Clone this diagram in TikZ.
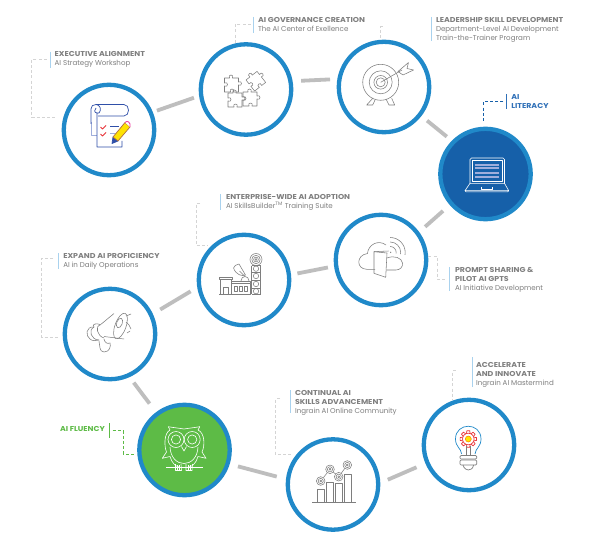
\documentclass[tikz,border=0pt]{standalone}
\usepackage{fontspec}
\usetikzlibrary{calc}
\setmainfont{Poppins}
\newfontfamily\hdfam[FakeStretch=1.11]{Poppins}
\definecolor{ring}{HTML}{2089C9}
\definecolor{conn}{HTML}{BEBEBE}
\definecolor{barb}{HTML}{A9D2EE}
\definecolor{leadg}{HTML}{D4D4D4}
\definecolor{txt}{HTML}{7F7F7F}
\definecolor{icong}{HTML}{7E7E7E}
\definecolor{litb}{HTML}{1660A9}
\definecolor{litt}{HTML}{2F70B8}
\definecolor{flug}{HTML}{5DBB46}
\definecolor{docb}{HTML}{2F4FA8}
\definecolor{docl}{HTML}{9FAEDC}
\definecolor{redi}{HTML}{E8343A}
\tikzset{
  stage/.style={circle,draw=ring,line width=4.3pt,minimum size=90.4pt,inner sep=0pt,fill=white},
  connector/.style={draw=conn,line width=3.8pt},
  bar/.style={draw=barb,line width=.9pt},
  lead/.style={draw=leadg,line width=.7pt,dash pattern=on 3pt off 2.2pt},
  lab/.style={anchor=north west,inner sep=0pt,outer sep=0pt,align=left,text=txt,font=\fontsize{7.1}{8.8}\selectfont},
  icon/.style={draw=icong,line width=.55pt,line join=round},
  owl/.style={draw=white,line width=.6pt,line join=round},
  lap/.style={draw=white,line width=.6pt,line join=round}
}
\newcommand{\hd}[1]{{\hdfam\bfseries #1}}
\newcommand{\piece}{(0,0) -- (5,0) .. controls (3,-4) and (10,-4) .. (8,0) -- (14,0) -- (14,4) .. controls (18,2) and (18,9) .. (14,7) -- (14,14) -- (9,14) .. controls (11,10) and (4,10) .. (6,14) -- (0,14) -- (0,8) .. controls (4,10) and (4,3) .. (0,5) -- cycle}
\begin{document}
\begin{tikzpicture}[x=1pt,y=-1pt]
\useasboundingbox (0,0) rectangle (612,540);
\fill[white] (0,0) rectangle (612,540);
% stages
\node[stage] (c1) at (109,130) {};
\node[stage] (c2) at (246,89.5) {};
\node[stage] (c3) at (384,87) {};
\node[stage,fill=litb] (c4) at (485.5,174) {};
\node[stage] (c5) at (381,260) {};
\node[stage] (c6) at (244,280) {};
\node[stage] (c7) at (110,334) {};
\node[stage,fill=flug] (c8) at (184.5,450) {};
\node[stage] (c9) at (333,484.5) {};
\node[stage] (c10) at (469,445) {};
% connectors
\draw[connector] ($(c1)!51.7pt!(c1.22.7)$) -- ($(c2)!52.7pt!(c2.189.6)$);
\draw[connector] ($(c2)!55.8pt!(c2.9.8)$) -- ($(c3)!54.5pt!(c3.172.6)$);
\draw[connector] ($(c3)!54.6pt!(c3.-38.1)$) -- ($(c4)!53.8pt!(c4.136.1)$);
\draw[connector] ($(c4)!56.3pt!(c4.221)$) -- ($(c5)!55.2pt!(c5.37.1)$);
\draw[connector] ($(c5)!53.6pt!(c5.188.6)$) -- ($(c6)!53.8pt!(c6.7.8)$);
\draw[connector] ($(c6)!54.6pt!(c6.192.4)$) -- ($(c7)!55.9pt!(c7.26.6)$);
\draw[connector] ($(c7)!54.1pt!(c7.-64.9)$) -- ($(c8)!58.1pt!(c8.127.7)$);
\draw[connector] ($(c8)!55.9pt!(c8.-17.7)$) -- ($(c9)!56.8pt!(c9.172.1)$);
\draw[connector] ($(c9)!55pt!(c9.5.7)$) -- ($(c10)!57pt!(c10.203.5)$);
% labels
\node[lab] (t1) at (54.7,51.4) {\hd{EXECUTIVE ALIGNMENT}\\AI Strategy Workshop};
\node[lab] (t2) at (258,17.5) {\hd{AI GOVERNANCE CREATION}\\The AI Center of Exellence};
\node[lab] (t3) at (436,17.5) {\hd{LEADERSHIP SKILL DEVELOPMENT}\\Department-Level AI Development\\Train-the-Trainer Program};
\node[lab,text=litt] (t4) at (511.3,94.5) {\hd{AI}\\\hd{LITERACY}};
\node[lab] (t5) at (226,194.5) {\hd{ENTERPRISE-WIDE AI ADOPTION}\\AI SkillsBuilder\textsuperscript{TM} Training Suite};
\node[lab] (t6) at (455,267.5) {\hd{PROMPT SHARING \&}\\\hd{PILOT AI GPTS}\\AI Initiative Development};
\node[lab] (t7) at (63.3,253.5) {\hd{EXPAND AI PROFICIENCY}\\AI in Daily Operations};
\node[lab,text=flug] (t8) at (60,426.5) {\hd{AI FLUENCY}};
\node[lab] (t9) at (295,390.5) {\hd{CONTINUAL AI}\\\hd{SKILLS ADVANCEMENT}\\Ingrain AI Online Community};
\node[lab] (t10) at (476,362.5) {\hd{ACCELERATE}\\\hd{AND INNOVATE}\\Ingrain AI Mastermind};
% bars
\coordinate (b1a) at (50.3,51.7); \coordinate (b1b) at (50.3,68);
\coordinate (b2a) at (253.3,17); \coordinate (b2b) at (253.3,33);
\coordinate (b3a) at (431.7,17); \coordinate (b3b) at (431.7,41);
\coordinate (b4a) at (506,94); \coordinate (b4b) at (506,108.7);
\coordinate (b5a) at (220.7,194.3); \coordinate (b5b) at (220.7,210);
\coordinate (b6a) at (449.3,267.3); \coordinate (b6b) at (449.3,290.7);
\coordinate (b7a) at (58.7,253.3); \coordinate (b7b) at (58.7,269);
\coordinate (b8a) at (109.3,423.3); \coordinate (b8b) at (109.3,438.3);
\coordinate (b9a) at (290.3,390); \coordinate (b9b) at (290.3,412.7);
\coordinate (b10a) at (472.3,357.3); \coordinate (b10b) at (472.3,386.7);
\foreach \i in {1,2,3,5,6,7,9,10} {\draw[bar] (b\i a) -- (b\i b);}
\draw[bar,draw=litt] (b4a) -- (b4b);
\draw[bar,draw=flug] (b8a) -- (b8b);
% leaders
\coordinate (l1a) at (46.7,59.3); \coordinate (l1b) at (56.7,117.3);
\coordinate (l2a) at (250.7,24.3); \coordinate (l2b) at (235,42.7);
\coordinate (l3a) at (382.7,26.7); \coordinate (l3b) at (380.7,39.3);
\coordinate (l4a) at (503.3,101.3); \coordinate (l4b) at (483.7,120.7);
\coordinate (l5a) at (200,203.3); \coordinate (l5b) at (208,245.3);
\coordinate (l6a) at (428.3,256.7); \coordinate (l6b) at (446.7,279);
\coordinate (l7a) at (53.3,258.3); \coordinate (l7b) at (59.3,337.3);
\coordinate (l8a) at (112.7,430.7); \coordinate (l8b) at (134,454);
\coordinate (l9a) at (280,398.7); \coordinate (l9b) at (291.7,454.7);
\coordinate (l10a) at (455.7,370.7); \coordinate (l10b) at (452.7,400);
\draw[lead] (l1a) -- (31.7,59.3) -- (31.7,117.3) -- (l1b);
\draw[lead] (l2a) -- (235,24.3) -- (l2b);
\draw[lead] (l3a) -- (380.7,26.7) -- (l3b);
\draw[lead,draw=litb] (l4a) -- (483.7,101.3) -- (l4b);
\draw[lead] (l5a) -- (196,203.3) -- (196,245.3) -- (l5b);
\draw[lead] (l6a) -- (437.3,256.7) -- (437.3,279) -- (l6b);
\draw[lead] (l7a) -- (41.7,258.3) -- (41.7,337.3) -- (l7b);
\draw[lead,draw=flug] (l8a) -- (123.3,430.7) -- (123.3,454) -- (l8b);
\draw[lead] (l9a) -- (275.7,398.7) -- (275.7,454.7) -- (l9b);
\draw[lead] (l10a) -- (452.7,370.7) -- (l10b);
% icon 1: document
\begin{scope}[line width=.7pt,line join=round]
\draw[docl] (91,122) -- (91,135) -- (97,135);
\draw[docb] (91,124) -- (91,109) .. controls (91,106) and (93,104.5) .. (96,104.5) -- (124,104.5) .. controls (130,104.5) and (130,116) .. (124,116) -- (98,116);
\draw[docb] (96,104.5) .. controls (100,104.5) and (102,110) .. (99,113) -- (97,113) -- (97,147) -- (122,147) -- (122,141);
\draw[docb] (97,113) .. controls (94,113) and (94,109) .. (96,108);
\draw[docb] (110,126) -- (119,126);
\draw[docl,line width=1pt] (110,134) -- (115,134);
\draw[redi,line width=.9pt] (100.5,127) -- (102.5,129) -- (106,125.5);
\draw[redi,line width=.9pt] (100.5,134) -- (102.5,136) -- (106,132.5);
\draw[docb,fill=docb] (113,137) -- (112,143.5) -- (118,141) -- cycle;
\draw[draw=docb!40!orange,fill=yellow!85!orange,line width=.7pt] (113,137) -- (125,122.5) -- (130,127) -- (118,141) -- cycle;
\draw[draw=magenta!80,fill=white,line width=.8pt] (125,122.5) .. controls (127,120) and (131,122) .. (130,127);
\end{scope}
% icon 2: puzzle
\begin{scope}[shift={(224.5,78)}] \draw[icon] \piece; \end{scope}
\begin{scope}[shift={(228,93)}] \draw[icon] \piece; \end{scope}
\begin{scope}[shift={(243,92)}] \draw[icon] \piece; \end{scope}
\begin{scope}[shift={(246,80)},rotate=38] \draw[icon] \piece; \end{scope}
% icon 3: target
\foreach \r in {18,11.5,6.8,4.5} {\draw[icon] (380.7,82.3) circle[radius=\r pt];}
\draw[icon] (380.7,82.3) -- (402,70);
\draw[icon] (398,71.5) -- (408.5,62.5) -- (407,68.5) -- (413.5,70) -- (403,75) -- cycle;
\draw[icon] (373,98) -- (366.7,105) -- (372.7,105) -- (375,100);
\draw[icon] (386,99) -- (389,105) -- (394.7,105) -- (391.7,98.3);
% icon 4: laptop
\draw[lap,rounded corners=1.5pt] (470,183.3) -- (470,158) -- (504.5,158) -- (504.5,183.3);
\draw[lap] (471.8,160.7) rectangle (502.5,181.5);
\fill[docl] (475,163.5) rectangle (499,165.5);
\fill[docl] (475,167) rectangle (499,169);
\fill[docl] (475,171.5) rectangle (499,173.5);
\fill[docl] (475,175.5) rectangle (499,177.5);
\draw[lap] (470,183.3) -- (465,190.7) -- (508.7,190.7) -- (504.5,183.3) -- cycle;
\draw[lap] (481,186.5) -- (481,189) -- (492.5,189) -- (492.5,186.5);
\draw[lap] (465,190.7) -- (466,191.8) -- (507.7,191.8) -- (508.7,190.7);
% icon 5: cloud
\draw[icon] (375,269.3) -- (366.7,269.3) .. controls (356,269) and (356,255) .. (367.5,253.5) .. controls (368,245) and (378,239) .. (386,245) ;
\draw[icon] (387.3,258) .. controls (394,255) and (402,258) .. (402.5,263) .. controls (403,267) and (400,270) .. (396,270) -- (386.3,270);
\draw[icon] (374,251.7) -- (387,253) -- (385.7,277.3) -- (374,273.3) -- cycle;
\draw[icon] (374,251.7) -- (388.5,251);
\fill[icong] (390.7,252.3) circle[radius=.7pt];
\begin{scope}
\clip (390,252.5) -- (390,230) -- (412,230) -- (412,256) -- cycle;
\foreach \r in {6,10.5,15} {\draw[icon] (390.2,252.5) circle[radius=\r pt];}
\end{scope}
% icon 6: building and tower
\draw[icon] (219.3,294.3) -- (250,294.3);
\draw[icon] (220,279.5) rectangle (231.7,294.3);
\draw[icon] (219,277) rectangle (232.5,279.5);
\draw[icon] (223.5,294.3) -- (223.5,287) -- (228.5,287) -- (228.5,294.3);
\draw[icon] (231.7,283) rectangle (250.5,294.3);
\draw[icon] (231.7,283) -- (231.7,281) -- (250.5,281) -- (250.5,283);
\foreach \x in {234.5,239.5,244.5} {\draw[icon] (\x,286.5) rectangle (\x+2.5,291.5);}
\draw[icon] (241,281) .. controls (241,275) and (249,275) .. (249,281);
\draw[icon] (233.5,268) .. controls (236,275) and (242,276.5) .. (245.5,275) -- (239,264) .. controls (236,264.5) and (234,266) .. (233.5,268) -- cycle;
\draw[icon] (239.5,271) -- (245,276.5);
\foreach \r in {6,4.2,2.4,1} {\draw[icon] (256,259.5) circle[radius=\r pt];}
\draw[icon] (251.5,265.5) -- (251.5,294.3);
\draw[icon] (260.5,265.5) -- (260.5,294.3);
\draw[icon] (251.5,265.5) -- (260.5,265.5);
\foreach \y in {272,280,288,294.3} {\draw[icon] (251.5,\y) -- (260.5,\y);}
\foreach \y in {268.7,276,284,291.2} {\draw[icon] (256,\y) circle[radius=2.7pt];}
% icon 7: megaphone
\begin{scope}
\draw[icon] (120.5,326) ellipse[x radius=5.5pt,y radius=13.5pt,rotate=-20];
\draw[icon] (119.5,323) ellipse[x radius=2.8pt,y radius=5pt,rotate=-20];
\draw[icon] (114,313.5) -- (99.5,325.5);
\draw[icon] (124,339) -- (104,336.5);
\draw[icon] (100,324.5) .. controls (95,326) and (97,336) .. (104,338);
\draw[icon] (94,327) .. controls (88,330) and (91,340) .. (99,340);
\draw[icon] (94,327) .. controls (91,324) and (97,323) .. (100,324.5);
\draw[icon] (94,327) .. controls (86,326) and (85,336) .. (90,339) .. controls (92,341) and (96,341) .. (99,340);
\draw[icon] (99,341) .. controls (100,345) and (99,352) .. (104,352) .. controls (110,352) and (111,346) .. (110,343) .. controls (107,344) and (105,343) .. (104,339);
\draw[icon] (126,316) -- (131,314);
\draw[icon] (126,322) -- (129,325) -- (131,329);
\draw[icon] (127,333) -- (130,331);
\end{scope}
% icon 8: owl
\draw[owl] (168.3,426.7) .. controls (176,428) and (178,428) .. (184,429) .. controls (190,428) and (192,428) .. (199.8,426.7);
\draw[owl] (168.3,426.7) -- (170,430) .. controls (164,433) and (164,446) .. (166.5,452) -- (162.3,458.3) -- (170,456.5) .. controls (172,463) and (175,466) .. (179,467);
\draw[owl] (199.8,426.7) -- (198,430) .. controls (205,433) and (205,446) .. (202,452) -- (206,458.3) -- (198,456.5) .. controls (196,463) and (193,466) .. (189,467);
\draw[owl] (170,447) .. controls (171,469) and (197,469) .. (198,447);
\foreach \x in {176,192.2} {
  \draw[owl] (\x,439.5) circle[radius=8pt];
  \draw[owl] (\x,439.5) circle[radius=4.6pt];
}
\draw[owl] (181.5,446.5) -- (184,451) -- (186.5,446.5);
\draw[owl] (166,467) -- (203,467);
\draw[owl] (175.5,464) -- (175.5,470.5) -- (181.5,470.5) -- (181,464);
\draw[owl] (177.5,465) -- (177.5,470.5);\draw[owl] (179.5,465) -- (179.5,470.5);
\draw[owl] (186,464) -- (186,470.5) -- (192,470.5) -- (192.5,464);
\draw[owl] (188,465) -- (188,470.5);\draw[owl] (190,465) -- (190,470.5);
% icon 9: bars
\draw[icon,line width=.8pt] (312.3,502) -- (356,502);
\draw[icon] (317.3,489.3) rectangle (324.7,502);
\draw[icon] (326,482.3) rectangle (333.3,502);
\draw[icon] (335.3,483.7) rectangle (342.7,502);
\draw[icon] (344,474) rectangle (351.3,502);
\draw[icon] (320.7,481) -- (330,469.3) -- (338.7,476.7) -- (347.3,465);
\foreach \p in {(320.7,481),(330,469.3),(338.7,476.7),(347.3,465)} {
  \fill[white] \p circle[radius=4.5pt];
  \draw[icon] \p circle[radius=4.3pt];
  \draw[icon] \p circle[radius=2.6pt];
  \draw[icon] \p circle[radius=1pt];
}
% icon 10: bulb
\draw[ring,line width=.7pt] (461.7,454) .. controls (461,448) and (455.5,447) .. (455.5,439) .. controls (455.5,422) and (481,422) .. (481,439) .. controls (481,447) and (475.5,448) .. (475,454);
\foreach \a in {0,45,...,315} {
  \draw[redi,line width=.7pt,rotate around={\a:(468.3,439)}] (466.5,433.3) -- (466.9,430.8) -- (469.7,430.8) -- (470.1,433.3);
}
\draw[redi,line width=.7pt] (468.3,439) circle[radius=5.8pt];
\fill[yellow!90!orange] (468.3,439) circle[radius=3pt];
\draw[orange,line width=.5pt] (468.3,439) circle[radius=3pt];
\draw[icon] (466,446) -- (466,455);
\draw[icon] (470.5,446) -- (470.5,455);
\draw[icon,rounded corners=1pt,line width=.7pt] (460,455.5) rectangle (476.7,459);
\draw[icon,rounded corners=1pt,line width=.7pt] (460,460) rectangle (476.7,465);
\draw[icon,line width=.7pt] (463,465) .. controls (464,469) and (467,470) .. (468.3,470) .. controls (470,470) and (473,469) .. (473.6,465);
\end{tikzpicture}
\end{document}
